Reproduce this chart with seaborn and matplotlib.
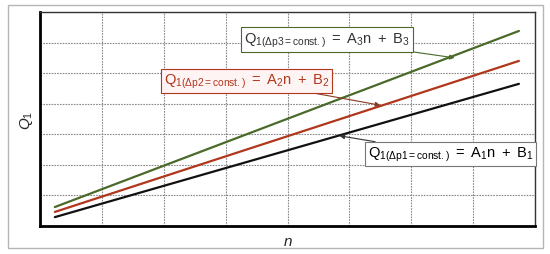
import pandas as pd
import numpy as np
import matplotlib.pyplot as plt
import seaborn as sns
from matplotlib.patches import Rectangle

# line end points (grid units)
n_vals = [0.24, 7.74]
q_p1 = [0.29, 4.65]
q_p2 = [0.46, 5.40]
q_p3 = [0.62, 6.38]

series = ["p1", "p2", "p3"]
colors = {"p1": "#111111", "p2": "#b0361c", "p3": "#4a6a2a"}
labels = {
    "p1": r"$\mathregular{Q_{1(\Delta p1=const.)}\ =\ A_1n\ +\ B_1}$",
    "p2": r"$\mathregular{Q_{1(\Delta p2=const.)}\ =\ A_2n\ +\ B_2}$",
    "p3": r"$\mathregular{Q_{1(\Delta p3=const.)}\ =\ A_3n\ +\ B_3}$",
}

df = pd.DataFrame({
    "n": n_vals * 3,
    "Q": q_p1 + q_p2 + q_p3,
    "line": ["p1"] * 2 + ["p2"] * 2 + ["p3"] * 2,
})

sns.set_style("white")
plt.rcParams["font.family"] = ["Liberation Sans", "DejaVu Sans"]
plt.rcParams["mathtext.fontset"] = "custom"
plt.rcParams["mathtext.rm"] = "Liberation Sans"
plt.rcParams["mathtext.it"] = "Liberation Sans:italic"

fig = plt.figure(figsize=(5.5, 2.55), dpi=100)
ax = fig.add_axes([40 / 550, 1 - 227 / 255, 495 / 550, 214 / 255])

# outer frame
fig.patches.append(Rectangle((8 / 550, 6 / 255), 535 / 550, 243 / 255,
                             transform=fig.transFigure, fill=False,
                             edgecolor="#b5b5b5", linewidth=1.0))

sns.lineplot(data=df, x="n", y="Q", hue="line", palette=colors,
             linewidth=1.6, legend=False, ax=ax)

ax.set_xlim(0, 8)
ax.set_ylim(0, 7)
ax.set_xticks(np.arange(0, 9))
ax.set_yticks(np.arange(0, 8))
ax.set_xticklabels([])
ax.set_yticklabels([])
ax.tick_params(length=0)
ax.grid(True, color="#8a8a8a", linestyle=(0, (1.5, 1)), linewidth=0.8)

for side in ["left", "bottom"]:
    ax.spines[side].set_linewidth(2)
    ax.spines[side].set_color("black")
for side in ["top", "right"]:
    ax.spines[side].set_linewidth(1)
    ax.spines[side].set_color("#333333")

ax.set_xlabel("n", fontsize=11, style="italic", labelpad=2)
ax.set_ylabel(r"$Q_1$", fontsize=11, labelpad=0)

# labels with arrows (box position, arrow target in data units)
ax.annotate(labels["p3"], xy=(6.7, 5.5), xytext=(3.3, 6.1),
            fontsize=10.5, color="#333333",
            bbox=dict(boxstyle="square,pad=0.2", fc="white", ec="#4a6a2a", lw=0.8),
            arrowprops=dict(arrowstyle="-|>", color="#4a6a2a", lw=0.8,
                            shrinkA=0, shrinkB=0, mutation_scale=7),
            va="center", ha="left")
ax.annotate(labels["p2"], xy=(5.5, 3.95), xytext=(2.0, 4.75),
            fontsize=10.5, color="#b0361c",
            bbox=dict(boxstyle="square,pad=0.2", fc="#fff4f4", ec="#b0361c", lw=0.8),
            arrowprops=dict(arrowstyle="-|>", color="#8a3a20", lw=0.8,
                            shrinkA=0, shrinkB=0, mutation_scale=7),
            va="center", ha="left")
ax.annotate(labels["p1"], xy=(4.84, 2.95), xytext=(5.3, 2.35),
            fontsize=10.5, color="black",
            bbox=dict(boxstyle="square,pad=0.2", fc="white", ec="#777777", lw=0.8),
            arrowprops=dict(arrowstyle="-|>", color="#333333", lw=0.8,
                            shrinkA=0, shrinkB=0, mutation_scale=7),
            va="center", ha="left")

fig.savefig("out.png", dpi=100)
